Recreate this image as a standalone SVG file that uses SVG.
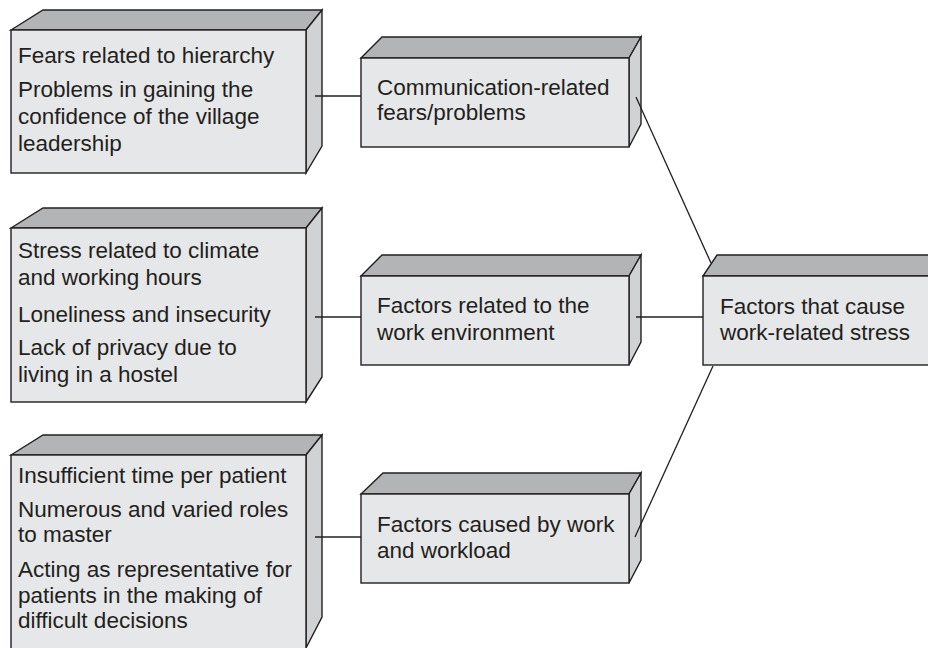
<svg xmlns="http://www.w3.org/2000/svg" width="928" height="648" viewBox="0 0 928 648">
<style>
.front{fill:#e6e7e8;stroke:#231f20;stroke-width:1.4}
.top{fill:#b3b4b6;stroke:#231f20;stroke-width:1.4;stroke-linejoin:miter}
.side{fill:#d1d2d4;stroke:#231f20;stroke-width:1.4}
text{font-family:"Liberation Sans",Arial,sans-serif;font-size:22.5px;fill:#231f20}
.conn line{stroke:#231f20;stroke-width:1.3}
</style>
<rect width="928" height="648" fill="#ffffff"/>
<g id="box-hierarchy">
<polygon class="top" points="11,30 43,10 322,10 306,30"/>
<polygon class="side" points="306,30 322,10 322,146 306,173"/>
<rect class="front" x="11" y="30" width="295" height="143"/>
<text x="18" y="63">Fears related to hierarchy</text>
<text x="18" y="97">Problems in gaining the</text>
<text x="18" y="124">confidence of the village</text>
<text x="18" y="151">leadership</text>
</g>
<g id="box-climate">
<polygon class="top" points="11,228 43,208 322,208 306,228"/>
<polygon class="side" points="306,228 322,208 322,377 306,402"/>
<rect class="front" x="11" y="228" width="295" height="174"/>
<text x="18" y="258">Stress related to climate</text>
<text x="18" y="285">and working hours</text>
<text x="18" y="322">Loneliness and insecurity</text>
<text x="18" y="355">Lack of privacy due to</text>
<text x="18" y="382">living in a hostel</text>
</g>
<g id="box-time">
<polygon class="top" points="11,455 43,435 322,435 306,455"/>
<polygon class="side" points="306,455 322,435 322,617 306,648"/>
<rect class="front" x="11" y="455" width="295" height="215"/>
<text x="18" y="483">Insufficient time per patient</text>
<text x="18" y="517">Numerous and varied roles</text>
<text x="18" y="542">to master</text>
<text x="18" y="577">Acting as representative for</text>
<text x="18" y="603">patients in the making of</text>
<text x="18" y="628">difficult decisions</text>
</g>
<g id="box-communication">
<polygon class="top" points="361,58 382,37 641,37 629,58"/>
<polygon class="side" points="629,58 641,37 641,124 629,147"/>
<rect class="front" x="361" y="58" width="268" height="89"/>
<text x="377" y="95">Communication-related</text>
<text x="377" y="120">fears/problems</text>
</g>
<g id="box-environment">
<polygon class="top" points="361,276 382,255 641,255 629,276"/>
<polygon class="side" points="629,276 641,255 641,342 629,365"/>
<rect class="front" x="361" y="276" width="268" height="89"/>
<text x="377" y="313">Factors related to the</text>
<text x="377" y="340">work environment</text>
</g>
<g id="box-workload">
<polygon class="top" points="361,494 383,473 641,473 629,494"/>
<polygon class="side" points="629,494 641,473 641,560 629,583"/>
<rect class="front" x="361" y="494" width="268" height="89"/>
<text x="377" y="532">Factors caused by work</text>
<text x="377" y="558">and workload</text>
</g>
<g id="box-stress">
<polygon class="top" points="703,276 717,255 950,255 945,276"/>
<rect class="front" x="703" y="276" width="245" height="89"/>
<text x="720" y="314">Factors that cause</text>
<text x="720" y="340">work-related stress</text>
</g>
<g class="conn" id="connectors">
<line x1="315" y1="96" x2="361" y2="96"/>
<line x1="315" y1="317" x2="361" y2="317"/>
<line x1="315" y1="537" x2="361" y2="537"/>
<line x1="636" y1="317" x2="703" y2="317"/>
<line x1="636" y1="97" x2="711" y2="263"/>
<line x1="635" y1="537" x2="713" y2="366"/>
</g>
</svg>
